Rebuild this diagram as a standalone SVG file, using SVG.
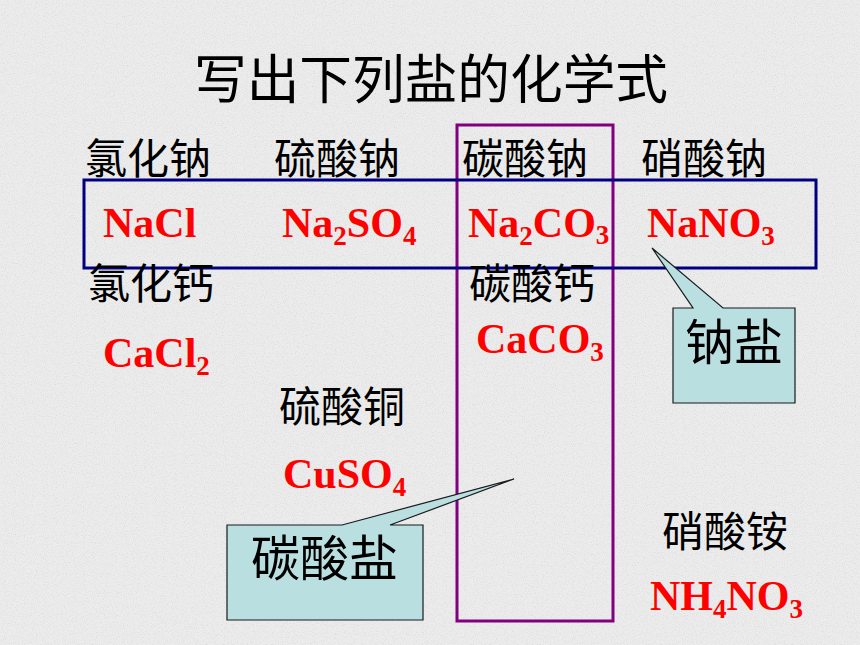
<svg xmlns="http://www.w3.org/2000/svg" width="860" height="645" viewBox="0 0 860 645">
<defs>
<filter id="noise" x="0" y="0" width="100%" height="100%">
<feTurbulence type="fractalNoise" baseFrequency="0.9" numOctaves="2" seed="3" result="t"/>
<feColorMatrix in="t" type="matrix" values="0 0 0 0 0.55  0 0 0 0 0.55  0 0 0 0 0.55  0 0 0 1.6 -0.75"/>
</filter>
<style>
.cn{font-family:"Noto Sans CJK SC","Noto Sans",sans-serif;fill:#000;}
.lbl{font-size:42px;}
.f{font-family:"Liberation Serif","Times New Roman",serif;font-weight:bold;font-size:42px;fill:#ff0000;}
.sub{font-size:27px;}
.call{fill:#b9dfe1;stroke:#1a1a1a;stroke-width:1.2;}
</style>
</defs>
<rect width="860" height="645" fill="#ececec"/>
<rect width="860" height="645" filter="url(#noise)" opacity="0.6"/>

<g id="title"><text class="cn" x="194" y="99" font-size="53" textLength="474" lengthAdjust="spacingAndGlyphs">写出下列盐的化学式</text></g>

<g id="groups">
<rect id="carbonate-box" x="457" y="125" width="156" height="496" fill="none" stroke="#800080" stroke-width="3"/>
<rect id="sodium-box" x="84" y="180" width="732" height="88" fill="none" stroke="#000080" stroke-width="3"/>
</g>

<g id="n-nacl"><text class="cn lbl" x="85" y="174">氯化钠</text><text class="f" x="103" y="237">NaCl</text></g>
<g id="n-na2so4"><text class="cn lbl" x="274" y="174">硫酸钠</text><text class="f" x="282" y="237">Na<tspan class="sub" dy="8">2</tspan><tspan dy="-8">SO</tspan><tspan class="sub" dy="8">4</tspan></text></g>
<g id="n-na2co3"><text class="cn lbl" x="462" y="174">碳酸钠</text><text class="f" x="468" y="237">Na<tspan class="sub" dy="8">2</tspan><tspan dy="-8">CO</tspan><tspan class="sub" dy="7">3</tspan></text></g>
<g id="n-nano3"><text class="cn lbl" x="641" y="174">硝酸钠</text><text class="f" x="647" y="237">NaNO<tspan class="sub" dy="8">3</tspan></text></g>
<g id="n-cacl2"><text class="cn lbl" x="88" y="299">氯化钙</text><text class="f" x="103" y="367">CaCl<tspan class="sub" dy="8">2</tspan></text></g>
<g id="n-caco3"><text class="cn lbl" x="469" y="299">碳酸钙</text><text class="f" x="476" y="353">CaCO<tspan class="sub" dy="8">3</tspan></text></g>
<g id="n-cuso4"><text class="cn lbl" x="279" y="422">硫酸铜</text><text class="f" x="283" y="488">CuSO<tspan class="sub" dy="8">4</tspan></text></g>
<g id="n-nh4no3"><text class="cn lbl" x="662" y="547">硝酸铵</text><text class="f" x="650" y="610">NH<tspan class="sub" dy="8">4</tspan><tspan dy="-8">NO</tspan><tspan class="sub" dy="8">3</tspan></text></g>

<g id="connectors">
<g id="callout-sodium"><path class="call" d="M673,308 L693,308 L652,248 L723,308 L795,308 L795,403 L673,403 Z"/><text class="cn" x="685" y="360" font-size="49">钠盐</text></g>
<g id="callout-carbonate"><path class="call" d="M227,525 L342,525 L514,479 L390,525 L423,525 L423,620 L227,620 Z"/><text class="cn" x="251" y="576" font-size="49">碳酸盐</text></g>
</g>
</svg>
